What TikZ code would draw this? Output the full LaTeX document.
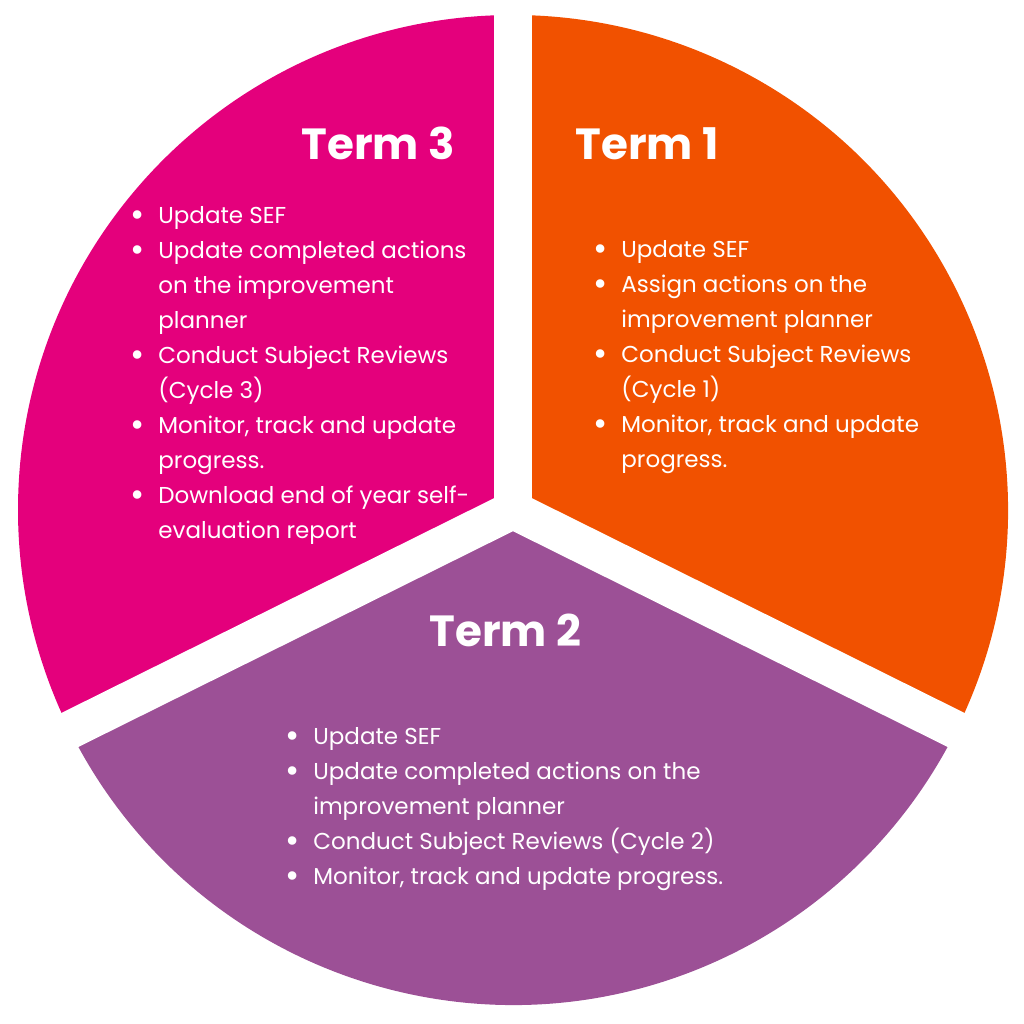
\documentclass[tikz,border=0pt]{standalone}
\usepackage{fontspec}
\setmainfont{Poppins}
\usepackage{tikz}
\usetikzlibrary{positioning}
\definecolor{termone}{HTML}{F15100}
\definecolor{termtwo}{HTML}{9C5096}
\definecolor{termthree}{HTML}{E4007C}
\newcommand{\bul}{\makebox[12pt][l]{\hspace*{-1.8pt}\raisebox{-1.6pt}{\scalebox{1.5}{\textbullet}}}}
\newcommand{\cont}{\hspace*{12pt}}
\tikzstyle{sector} = [draw=none]
\tikzstyle{gap}    = [draw=white, line width=19pt]
\tikzstyle{title}  = [inner sep=0pt, text=white, font=\fontsize{21.8}{26}\selectfont\bfseries]
\tikzstyle{tasks}  = [inner sep=0pt, text=white, align=left, anchor=north west, font=\fontsize{11.5}{17.5}\selectfont]

\begin{document}
\begin{tikzpicture}[x=0.5pt, y=0.5pt]
    \useasboundingbox (0,0) rectangle (1024,1024);
    \coordinate (centre) at (513,514);

    % Sectors
    \fill [sector, termone]   (centre) -- ++(-26.4:495) arc[start angle=-26.4, end angle=90,    radius=495] -- cycle;
    \fill [sector, termthree] (centre) -- ++(90:495)    arc[start angle=90,    end angle=206.4, radius=495] -- cycle;
    \fill [sector, termtwo]   (centre) -- ++(206.4:495) arc[start angle=206.4, end angle=333.6, radius=495] -- cycle;

    % Gaps between the sectors
    \draw [gap] (centre) -- ++(90:530);
    \draw [gap] (centre) -- ++(206.4:530);
    \draw [gap] (centre) -- ++(333.6:530);

    % Nodes
    %% Term 3
    \node (term_three_title) [title, anchor=base east] at (455,864) {Term 3};
    \node (term_three_list)  [tasks] at (134,825.5)
      {\strut\bul Update SEF\\ \bul Update completed actions\\ \cont on the improvement\\ \cont planner\\ \bul Conduct Subject Reviews\\ \cont (Cycle 3)\\ \bul Monitor, track and update\\ \cont progress.\\ \bul Download end of year self-\\ \cont evaluation report};
    %% Term 1
    \node (term_one_title)   [title, anchor=base west] at (575,864) {Term 1};
    \node (term_one_list)    [tasks] at (597,791.5)
      {\strut\bul Update SEF\\ \bul Assign actions on the\\ \cont improvement planner\\ \bul Conduct Subject Reviews\\ \cont (Cycle 1)\\ \bul Monitor, track and update\\ \cont progress.};
    %% Term 2
    \node (term_two_title)   [title, anchor=base] at (505.5,377) {Term 2};
    \node (term_two_list)    [tasks] at (289,304.5)
      {\strut\bul Update SEF\\ \bul Update completed actions on the\\ \cont improvement planner\\ \bul Conduct Subject Reviews (Cycle 2)\\ \bul Monitor, track and update progress.};
\end{tikzpicture}
\end{document}
